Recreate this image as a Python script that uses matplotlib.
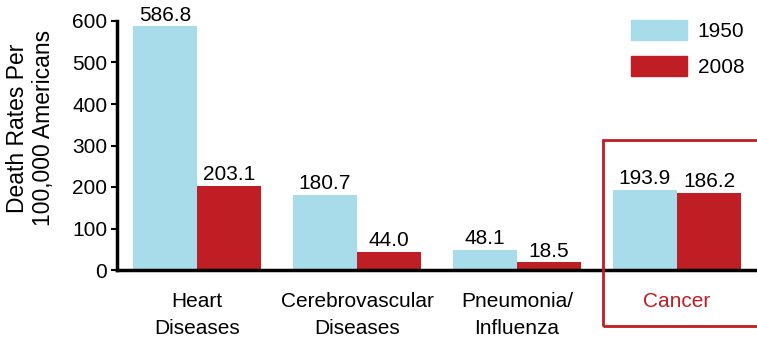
import matplotlib
matplotlib.use("Agg")
import matplotlib.pyplot as plt
from matplotlib.patches import Rectangle, Patch

categories = ["Heart\nDiseases", "Cerebrovascular\nDiseases", "Pneumonia/\nInfluenza", "Cancer"]
rates_1950 = [586.8, 180.7, 48.1, 193.9]
rates_2008 = [203.1, 44.0, 18.5, 186.2]
years = ["1950", "2008"]
yticks = [0, 100, 200, 300, 400, 500, 600]

blue = "#A9DCEB"
red = "#BE1E24"

plt.rcParams["font.family"] = ["Liberation Sans", "DejaVu Sans"]

fig = plt.figure(figsize=(7.57, 3.38), dpi=100)
ax = fig.add_axes([117 / 757, 1 - 270 / 338, 640 / 757, 249 / 338])

x = list(range(len(categories)))
w = 0.4
b1 = ax.bar([i - w / 2 for i in x], rates_1950, w, color=blue, label=years[0])
b2 = ax.bar([i + w / 2 for i in x], rates_2008, w, color=red, label=years[1])

for bars, vals in ((b1, rates_1950), (b2, rates_2008)):
    for r, v in zip(bars, vals):
        ax.text(r.get_x() + r.get_width() / 2, v + 4, f"{v:.1f}",
                ha="center", va="bottom", fontsize=15)

ax.set_xlim(-0.5, 3.5)
ax.set_ylim(0, 600)
ax.set_yticks(yticks)
ax.tick_params(axis="y", labelsize=15, length=4, width=1.5, pad=3)
ax.set_xticks(x)
ax.set_xticklabels(categories, fontsize=15, linespacing=1.5)
ax.tick_params(axis="x", length=0, pad=16)
ax.get_xticklabels()[3].set_color(red)
for s in ("top", "right"):
    ax.spines[s].set_visible(False)
for s in ("left", "bottom"):
    ax.spines[s].set_linewidth(2.5)

ax.set_ylabel("Death Rates Per\n100,000 Americans", fontsize=16.5, linespacing=1.15)
ax.yaxis.set_label_coords(-0.097, 0.57)

# highlight box around cancer
fig.patches.append(Rectangle((603 / 757, 1 - 326 / 338), 160 / 757, 186 / 338,
                             transform=fig.transFigure, fill=False,
                             edgecolor=red, linewidth=2))

ax.legend(handles=[Patch(color=blue, label=years[0]), Patch(color=red, label=years[1])],
          loc="upper left", bbox_to_anchor=(631 / 757, 1 - 20 / 338),
          bbox_transform=fig.transFigure, frameon=False, fontsize=15,
          borderpad=0, borderaxespad=0,
          handlelength=2.7, handleheight=1.1, handletextpad=0.5, labelspacing=0.7)

fig.savefig("out.png", dpi=100)
